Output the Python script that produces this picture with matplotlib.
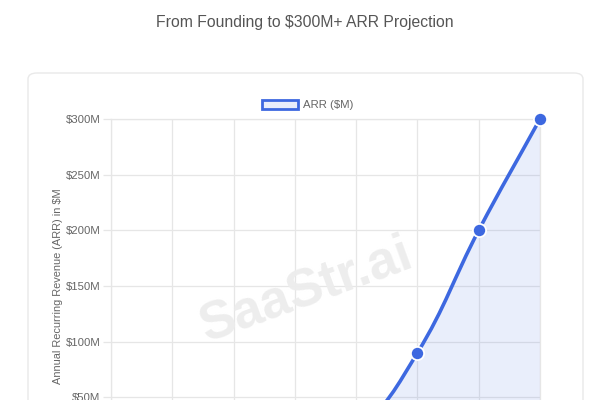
import numpy as np
import matplotlib
matplotlib.use("Agg")
import matplotlib.pyplot as plt
from matplotlib.path import Path
from matplotlib.patches import PathPatch, FancyBboxPatch, Rectangle
from matplotlib.ticker import FuncFormatter, FixedLocator

plt.rcParams['font.family'] = ['Liberation Sans', 'DejaVu Sans']

# ---- data ----
categories = ["Founding", "Year 1", "Year 2", "Year 3", "Year 4", "Year 5", "Year 6", "Year 7"]
arr_values = [0, 0.5, 2, 7, 20, 90, 200, 300]
y_ticks = [50, 100, 150, 200, 250, 300]
series_label = "ARR ($M)"
title = "From Founding to $300M+ ARR Projection"
ylabel = "Annual Recurring Revenue (ARR) in $M"
watermark = "SaaStr.ai"

line_color = "#3d68e0"
fill_color = (61/255, 104/255, 224/255, 0.11)
grid_color = "#e6e6e6"
text_color = "#666666"

fig = plt.figure(figsize=(6, 4), dpi=100)
fig.patch.set_facecolor("white")

# card background
card = FancyBboxPatch((28/600, -0.2), (583-28)/600, (400-73)/400 + 0.2,
                      boxstyle="round,pad=0,rounding_size=0.015",
                      transform=fig.transFigure, facecolor="white",
                      edgecolor="#e9e9e9", linewidth=1.0, zorder=-5)
fig.patches.append(card)

fig.text(305/600, 1 - 23/400, title, ha="center", va="center",
         fontsize=11.3, color="#555555")

ax = fig.add_axes([111/600, 1 - 453/400, (540-111)/600, (453-119)/400])
ax.set_zorder(2)
ax.set_facecolor("none")
x = np.arange(len(categories))
y = np.array(arr_values, dtype=float)
ax.set_xlim(0, len(categories) - 1)
ax.set_ylim(0, 300)

# Chart.js-like spline (tension 0.4) computed in pixel-scaled space
px_per_x = (540 - 111) / (len(categories) - 1)
px_per_y = (453 - 119) / 300.0
t = 0.4
n = len(x)
cp_prev = np.zeros((n, 2))
cp_next = np.zeros((n, 2))
P = np.column_stack([x * px_per_x, y * px_per_y])
for i in range(n):
    prev = P[max(i - 1, 0)]
    cur = P[i]
    nxt = P[min(i + 1, n - 1)]
    d01 = np.hypot(*(cur - prev))
    d12 = np.hypot(*(nxt - cur))
    tot = d01 + d12
    s01 = d01 / tot if tot else 0
    s12 = d12 / tot if tot else 0
    cp_prev[i] = cur - t * s01 * (nxt - prev)
    cp_next[i] = cur + t * s12 * (nxt - prev)
cp_prev[:, 1] = np.clip(cp_prev[:, 1], 0, 300 * px_per_y)
cp_next[:, 1] = np.clip(cp_next[:, 1], 0, 300 * px_per_y)
scale = np.array([px_per_x, px_per_y])
Pd, cpp, cpn = P / scale, cp_prev / scale, cp_next / scale

verts = [tuple(Pd[0])]
codes = [Path.MOVETO]
for i in range(n - 1):
    verts += [tuple(cpn[i]), tuple(cpp[i + 1]), tuple(Pd[i + 1])]
    codes += [Path.CURVE4] * 3
line_path = Path(verts, codes)

fverts = verts + [(x[-1], 0), (x[0], 0), verts[0]]
fcodes = codes + [Path.LINETO, Path.LINETO, Path.CLOSEPOLY]
ax.add_patch(PathPatch(Path(fverts, fcodes), facecolor=fill_color,
                       edgecolor="none", zorder=2))
ax.add_patch(PathPatch(line_path, facecolor="none", edgecolor=line_color,
                       linewidth=2.6, zorder=3, capstyle="round"))
ax.plot(x, y, linestyle="none", marker="o", markersize=9.5,
        markerfacecolor=line_color, markeredgecolor="white",
        markeredgewidth=1.3, zorder=4, clip_on=False)

# grid and ticks
ax.yaxis.set_major_locator(FixedLocator(y_ticks))
ax.yaxis.set_major_formatter(FuncFormatter(lambda v, p: f"${int(v)}M"))
ax.set_xticks(x)
ax.tick_params(axis="x", labelbottom=False)
ax.grid(True, color=grid_color, linewidth=0.9, zorder=0)
ax.set_axisbelow(True)
for s in ax.spines.values():
    s.set_color(grid_color)
    s.set_linewidth(0.9)
ax.tick_params(axis="both", colors=grid_color, length=5.8, width=0.9,
               labelcolor=text_color, labelsize=8.2, pad=2)
ax.set_ylabel(ylabel, fontsize=7.9, color=text_color)
ax.yaxis.set_label_coords((63 - 111) / 429, 0.5)

# watermark (inside axes, above grid, below data)
ax.text(306/600, 1 - 290/400, watermark, transform=fig.transFigure,
        ha="center", va="center", rotation=20, fontsize=38,
        fontweight="bold", color="#ededed", zorder=1, clip_on=False)

# legend (Chart.js style)
fig.patches.append(Rectangle((262/600, 1 - 109/400), 36/600, 9/400,
                             transform=fig.transFigure, facecolor="#e8edfb",
                             edgecolor=line_color, linewidth=2.0, zorder=5))
fig.text(303/600, 1 - 104.5/400, series_label, ha="left", va="center",
         fontsize=8.2, color=text_color)

fig.savefig("out.png", dpi=100, facecolor="white")
